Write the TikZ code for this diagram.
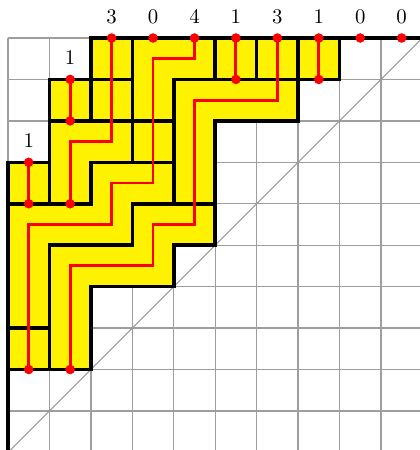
\documentclass[tikz,border=0pt]{standalone}
\begin{document}
\begin{tikzpicture}[x=0.7cm,y=0.7cm,
  gridline/.style={draw=black!38, line width=0.6pt},
  diag/.style={draw=black!40, line width=0.5pt},
  wall/.style={draw=black, line width=1.7pt, line cap=rect},
  redpath/.style={draw=red, line width=1.4pt},
  reddot/.style={circle, fill=red, inner sep=0pt, minimum size=4.6pt},
  lab/.style={inner sep=1pt}]
\useasboundingbox (-0.193,0.058) rectangle (9.918,10.917);
% grid and diagonal
\foreach \i in {0,...,10} {
  \draw[gridline] (\i,0) -- (\i,10);
  \draw[gridline] (0,\i) -- (10,\i);
}
\draw[diag] (0,0) -- (10,10);
% shape
\fill[yellow] (0,2) -- (0,7) -- (1,7) -- (1,9) -- (2,9) -- (2,10) -- (8,10) -- (8,9)
  -- (7,9) -- (7,8) -- (5,8) -- (5,5) -- (4,5) -- (4,4) -- (2,4) -- (2,2) -- cycle;
% black walls: horizontal
\draw[wall] (2,10) -- (10,10);
\draw[wall] (1,9) -- (3,9);  \draw[wall] (4,9) -- (8,9);
\draw[wall] (1,8) -- (4,8);  \draw[wall] (5,8) -- (7,8);
\draw[wall] (0,7) -- (1,7);  \draw[wall] (2,7) -- (4,7);
\draw[wall] (0,6) -- (2,6);  \draw[wall] (3,6) -- (5,6);
\draw[wall] (1,5) -- (3,5);  \draw[wall] (4,5) -- (5,5);
\draw[wall] (2,4) -- (4,4);
\draw[wall] (0,3) -- (1,3);
\draw[wall] (0,2) -- (2,2);
% black walls: vertical
\draw[wall] (0,0) -- (0,7);
\draw[wall] (1,6) -- (1,9);  \draw[wall] (1,2) -- (1,5);
\draw[wall] (2,8) -- (2,10); \draw[wall] (2,6) -- (2,7); \draw[wall] (2,2) -- (2,4);
\draw[wall] (3,7) -- (3,10); \draw[wall] (3,5) -- (3,6);
\draw[wall] (4,6) -- (4,9);  \draw[wall] (4,4) -- (4,5);
\draw[wall] (5,9) -- (5,10); \draw[wall] (5,5) -- (5,8);
\draw[wall] (6,9) -- (6,10);
\draw[wall] (7,8) -- (7,10);
\draw[wall] (8,9) -- (8,10);
% dot positions
\coordinate (s0) at (0.5,7);  \coordinate (e0) at (0.5,6);
\coordinate (s1) at (1.5,9);  \coordinate (e1) at (1.5,8);
\coordinate (s2) at (2.5,10); \coordinate (e2) at (1.5,6);
\coordinate (s3) at (3.5,10);
\coordinate (s4) at (4.5,10); \coordinate (e4) at (0.5,2);
\coordinate (s5) at (5.5,10); \coordinate (e5) at (5.5,9);
\coordinate (s6) at (6.5,10); \coordinate (e6) at (1.5,2);
\coordinate (s7) at (7.5,10); \coordinate (e7) at (7.5,9);
\coordinate (s8) at (8.5,10);
\coordinate (s9) at (9.5,10);
% red paths
\draw[redpath] (s0) -- (e0);
\draw[redpath] (s1) -- (e1);
\draw[redpath] (s2) -- (2.5,7.5) -- (1.5,7.5) -- (e2);
\draw[redpath] (s4) -- (4.5,9.5) -- (3.5,9.5) -- (3.5,6.5) -- (2.5,6.5) -- (2.5,5.5) -- (0.5,5.5) -- (e4);
\draw[redpath] (s5) -- (e5);
\draw[redpath] (s6) -- (6.5,8.5) -- (4.5,8.5) -- (4.5,5.5) -- (3.5,5.5) -- (3.5,4.5) -- (1.5,4.5) -- (e6);
\draw[redpath] (s7) -- (e7);
% dots
\foreach \p in {s0,e0,s1,e1,s2,e2,s3,s4,e4,s5,e5,s6,e6,s7,e7,s8,s9}
  \node[reddot] (dot-\p) at (\p) {};
% labels
\node[lab] (l0) at (0.5,7.52) {1};
\node[lab] (l1) at (1.5,9.52) {1};
\node[lab] (l2) at (2.5,10.52) {3};
\node[lab] (l3) at (3.5,10.52) {0};
\node[lab] (l4) at (4.5,10.52) {4};
\node[lab] (l5) at (5.5,10.52) {1};
\node[lab] (l6) at (6.5,10.52) {3};
\node[lab] (l7) at (7.5,10.52) {1};
\node[lab] (l8) at (8.5,10.52) {0};
\node[lab] (l9) at (9.5,10.52) {0};
\end{tikzpicture}
\end{document}
